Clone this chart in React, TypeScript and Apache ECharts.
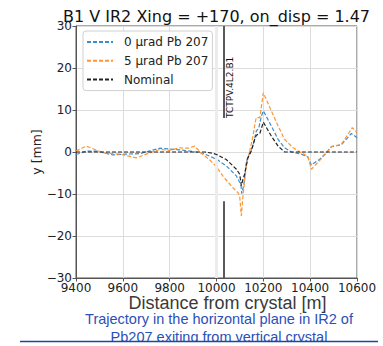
import React, { useEffect, useRef } from "react";
import * as echarts from "echarts";

// ---- data ----
const X_MIN = 9400;
const X_MAX = 10600;
const X_STEP = 200;
const Y_MIN = -30;
const Y_MAX = 30;
const Y_STEP = 10;

const SERIES_NAMES = ["0 \u03bcrad Pb 207", "5 \u03bcrad Pb 207", "Nominal"];

const blueX = [9400, 9444, 9490, 9557, 9610, 9672, 9757, 9800, 9843, 9900, 9942, 10000, 10042, 10085, 10096, 10104, 10108, 10117, 10128, 10142, 10156, 10170, 10180, 10192, 10200, 10234, 10263, 10291, 10320, 10362, 10390, 10405, 10441, 10469, 10491, 10533, 10576, 10600];
const blueY = [-0.6, 0.2, 0.2, -0.7, -0.5, -0.4, 0.9, 0.7, 0.5, 0.1, -0.3, -1.7, -3.3, -5.7, -6.9, -7.7, -9.9, -7.7, -2.1, -0.2, 1.5, 5.0, 5.6, 8.6, 9.8, 6.2, 3.0, 1.0, 0.0, -0.5, -1.2, -3.1, -1.7, -0.2, 1.3, 1.7, 4.4, 3.4];

const orangeX = [9400, 9444, 9515, 9587, 9658, 9715, 9757, 9800, 9843, 9878, 9907, 9935, 9971, 10000, 10028, 10070, 10092, 10099, 10106, 10113, 10128, 10142, 10156, 10165, 10170, 10185, 10200, 10234, 10263, 10291, 10327, 10362, 10390, 10405, 10441, 10469, 10491, 10533, 10580, 10600];
const orangeY = [0.2, 1.4, -0.2, -0.5, -1.4, -0.2, 0.6, 0.4, 1.0, 0.9, 1.4, -0.3, -1.9, -3.5, -5.8, -8.5, -9.7, -10.5, -15.2, -10.5, -2.9, 0.3, 3.8, 7.0, 8.2, 8.2, 14.1, 9.8, 6.2, 3.0, 1.0, -0.2, -1.0, -4.1, -2.0, -0.2, 1.3, 1.8, 5.8, 4.6];

const nominalX = [9400, 9950, 9985, 10000, 10042, 10085, 10099, 10106, 10113, 10120, 10134, 10149, 10163, 10170, 10185, 10200, 10234, 10263, 10291, 10600];
const nominalY = [0, 0, -0.3, -0.6, -1.8, -4.1, -5.3, -8.0, -6.5, -5.3, -1.4, 0.3, 3.0, 4.0, 4.4, 7.1, 3.8, 1.4, 0, 0];

const COLLIMATOR_NAME = "TCTPV.4L2.B1";
const COLLIMATOR_X = 10031;
const COLLIMATOR_UPPER = [8.1, 30];
const COLLIMATOR_LOWER = [-30, -11.7];
const HIGHLIGHT_X = 10000;

const TITLE = "B1 V IR2 Xing = +170, on_disp = 1.47";
const X_NAME = "Distance from crystal [m]";
const Y_NAME = "y [mm]";
const CAPTION = ["Trajectory in the horizontal plane in IR2 of", "Pb207 exiting from vertical crystal"];

const zip = (xs: number[], ys: number[]) => xs.map((x, i) => [x, ys[i]]);
const minus = (v: number) => String(v).replace("-", "\u2212");

export default function App() {
  const ref = useRef<HTMLDivElement>(null);

  useEffect(() => {
    const chart = echarts.init(ref.current!, null, { renderer: "svg" });
    const dash = [4, 2];
    const tickFont = "DejaVu Sans";
    const axisColor = "#555";
    const blue = "#3f8ccb";
    const orange = "#ff9533";
    const black = "#222";

    chart.setOption({
      animation: false,
      backgroundColor: "#fff",
      grid: {
        left: 76,
        top: 26,
        right: 26,
        bottom: 68,
        show: true,
        borderColor: axisColor,
        borderWidth: 1,
        backgroundColor: "transparent",
      },
      xAxis: {
        type: "value",
        min: X_MIN,
        max: X_MAX,
        interval: X_STEP,
        axisLine: { show: true, onZero: false, lineStyle: { color: axisColor } },
        axisTick: { show: true, length: 3.5, lineStyle: { color: axisColor } },
        axisLabel: { fontSize: 12, fontFamily: tickFont, color: "#222", margin: 4, formatter: minus },
        splitLine: { show: true, lineStyle: { color: "#dcdcdc", width: 1 } },
      },
      yAxis: {
        type: "value",
        min: Y_MIN,
        max: Y_MAX,
        interval: Y_STEP,
        axisLine: { show: true, onZero: false, lineStyle: { color: axisColor } },
        axisTick: { show: true, length: 3.5, lineStyle: { color: axisColor } },
        axisLabel: { fontSize: 12, fontFamily: tickFont, color: "#222", margin: 4, formatter: minus },
        splitLine: { show: true, lineStyle: { color: "#dcdcdc", width: 1 } },
      },
      legend: {
        data: SERIES_NAMES,
        orient: "vertical",
        left: 83,
        top: 31,
        padding: [4, 4, 4, 3],
        itemGap: 4.8,
        itemWidth: 26,
        itemHeight: 14,
        borderColor: "#d0d0d0",
        borderWidth: 1,
        borderRadius: 3,
        backgroundColor: "rgba(255,255,255,0.85)",
        itemStyle: { opacity: 0, borderWidth: 0 },
        textStyle: { fontSize: 12, fontFamily: tickFont, color: "#222", lineHeight: 14, padding: [0, 0, 0, 6] },
      },
      series: [
        {
          name: "_highlight",
          type: "line",
          data: [[HIGHLIGHT_X, 0]],
          symbol: "none",
          z: 1,
          lineStyle: { width: 0 },
          silent: true,
          markLine: {
            silent: true,
            symbol: "none",
            label: { show: false },
            lineStyle: { color: "#ececec", width: 3, type: "solid" },
            data: [{ xAxis: HIGHLIGHT_X }],
          },
        },
        {
          name: SERIES_NAMES[0],
          type: "line",
          data: zip(blueX, blueY),
          symbol: "none",
          z: 3,
          lineStyle: { color: blue, width: 1.2, type: dash },
          itemStyle: { color: blue },
        },
        {
          name: SERIES_NAMES[1],
          type: "line",
          data: zip(orangeX, orangeY),
          symbol: "none",
          z: 4,
          lineStyle: { color: orange, width: 1.2, type: dash },
          itemStyle: { color: orange },
        },
        {
          name: SERIES_NAMES[2],
          type: "line",
          data: zip(nominalX, nominalY),
          symbol: "none",
          z: 5,
          lineStyle: { color: black, width: 1.2, type: dash },
          itemStyle: { color: black },
          markLine: {
            silent: true,
            symbol: "none",
            label: { show: false },
            lineStyle: { color: "#5a5a5a", width: 2, type: "solid" },
            data: [
              [{ coord: [COLLIMATOR_X, COLLIMATOR_UPPER[0]] }, { coord: [COLLIMATOR_X, COLLIMATOR_UPPER[1]] }],
              [{ coord: [COLLIMATOR_X, COLLIMATOR_LOWER[0]] }, { coord: [COLLIMATOR_X, COLLIMATOR_LOWER[1]] }],
            ],
          },
        },
      ],
    });

    const p = chart.convertToPixel({ gridIndex: 0 }, [COLLIMATOR_X, COLLIMATOR_UPPER[0]]) as number[];

    chart.setOption({
      graphic: [
        {
          type: "text",
          x: 216.5,
          y: 16,
          style: { text: TITLE, fontSize: 16, fontFamily: "DejaVu Sans", fill: "#111", textAlign: "center", textVerticalAlign: "middle" },
        },
        {
          type: "text",
          x: 36.5,
          y: 152,
          rotation: Math.PI / 2,
          style: { text: Y_NAME, fontSize: 12.5, fontFamily: "DejaVu Sans", fill: "#222", textAlign: "center", textVerticalAlign: "middle" },
        },
        {
          type: "text",
          x: 227.5,
          y: 303,
          style: { text: X_NAME, fontSize: 18, fontFamily: "Liberation Sans", fill: "#3a3a3a", textAlign: "center", textVerticalAlign: "middle" },
        },
        {
          type: "text",
          x: p[0] + 1.5,
          y: p[1],
          rotation: Math.PI / 2,
          z: 10,
          style: { text: COLLIMATOR_NAME, fontSize: 9, fontFamily: "DejaVu Sans", fill: "#111", textAlign: "left", textVerticalAlign: "top" },
        },
        {
          type: "text",
          x: 219,
          y: 318.7,
          style: { text: CAPTION[0], fontSize: 14.5, fontFamily: "Liberation Sans", fill: "#2b50b8", textAlign: "center", textVerticalAlign: "middle" },
        },
        {
          type: "text",
          x: 219,
          y: 337,
          style: { text: CAPTION[1], fontSize: 14.5, fontFamily: "Liberation Sans", fill: "#2b50b8", textAlign: "center", textVerticalAlign: "middle" },
        },
        {
          type: "rect",
          z: 20,
          shape: { x: 0, y: 342, width: 383, height: 6 },
          style: { fill: "#fff" },
        },
        {
          type: "line",
          z: 21,
          shape: { x1: 20, y1: 341.5, x2: 378, y2: 341.5 },
          style: { stroke: "#1f45a5", lineWidth: 1.7 },
        },
      ],
    });

    return () => chart.dispose();
  }, []);

  return (
    <div
      ref={ref}
      style={{ position: "fixed", left: 0, top: 0, width: 383, height: 346, background: "#fff" }}
    />
  );
}
